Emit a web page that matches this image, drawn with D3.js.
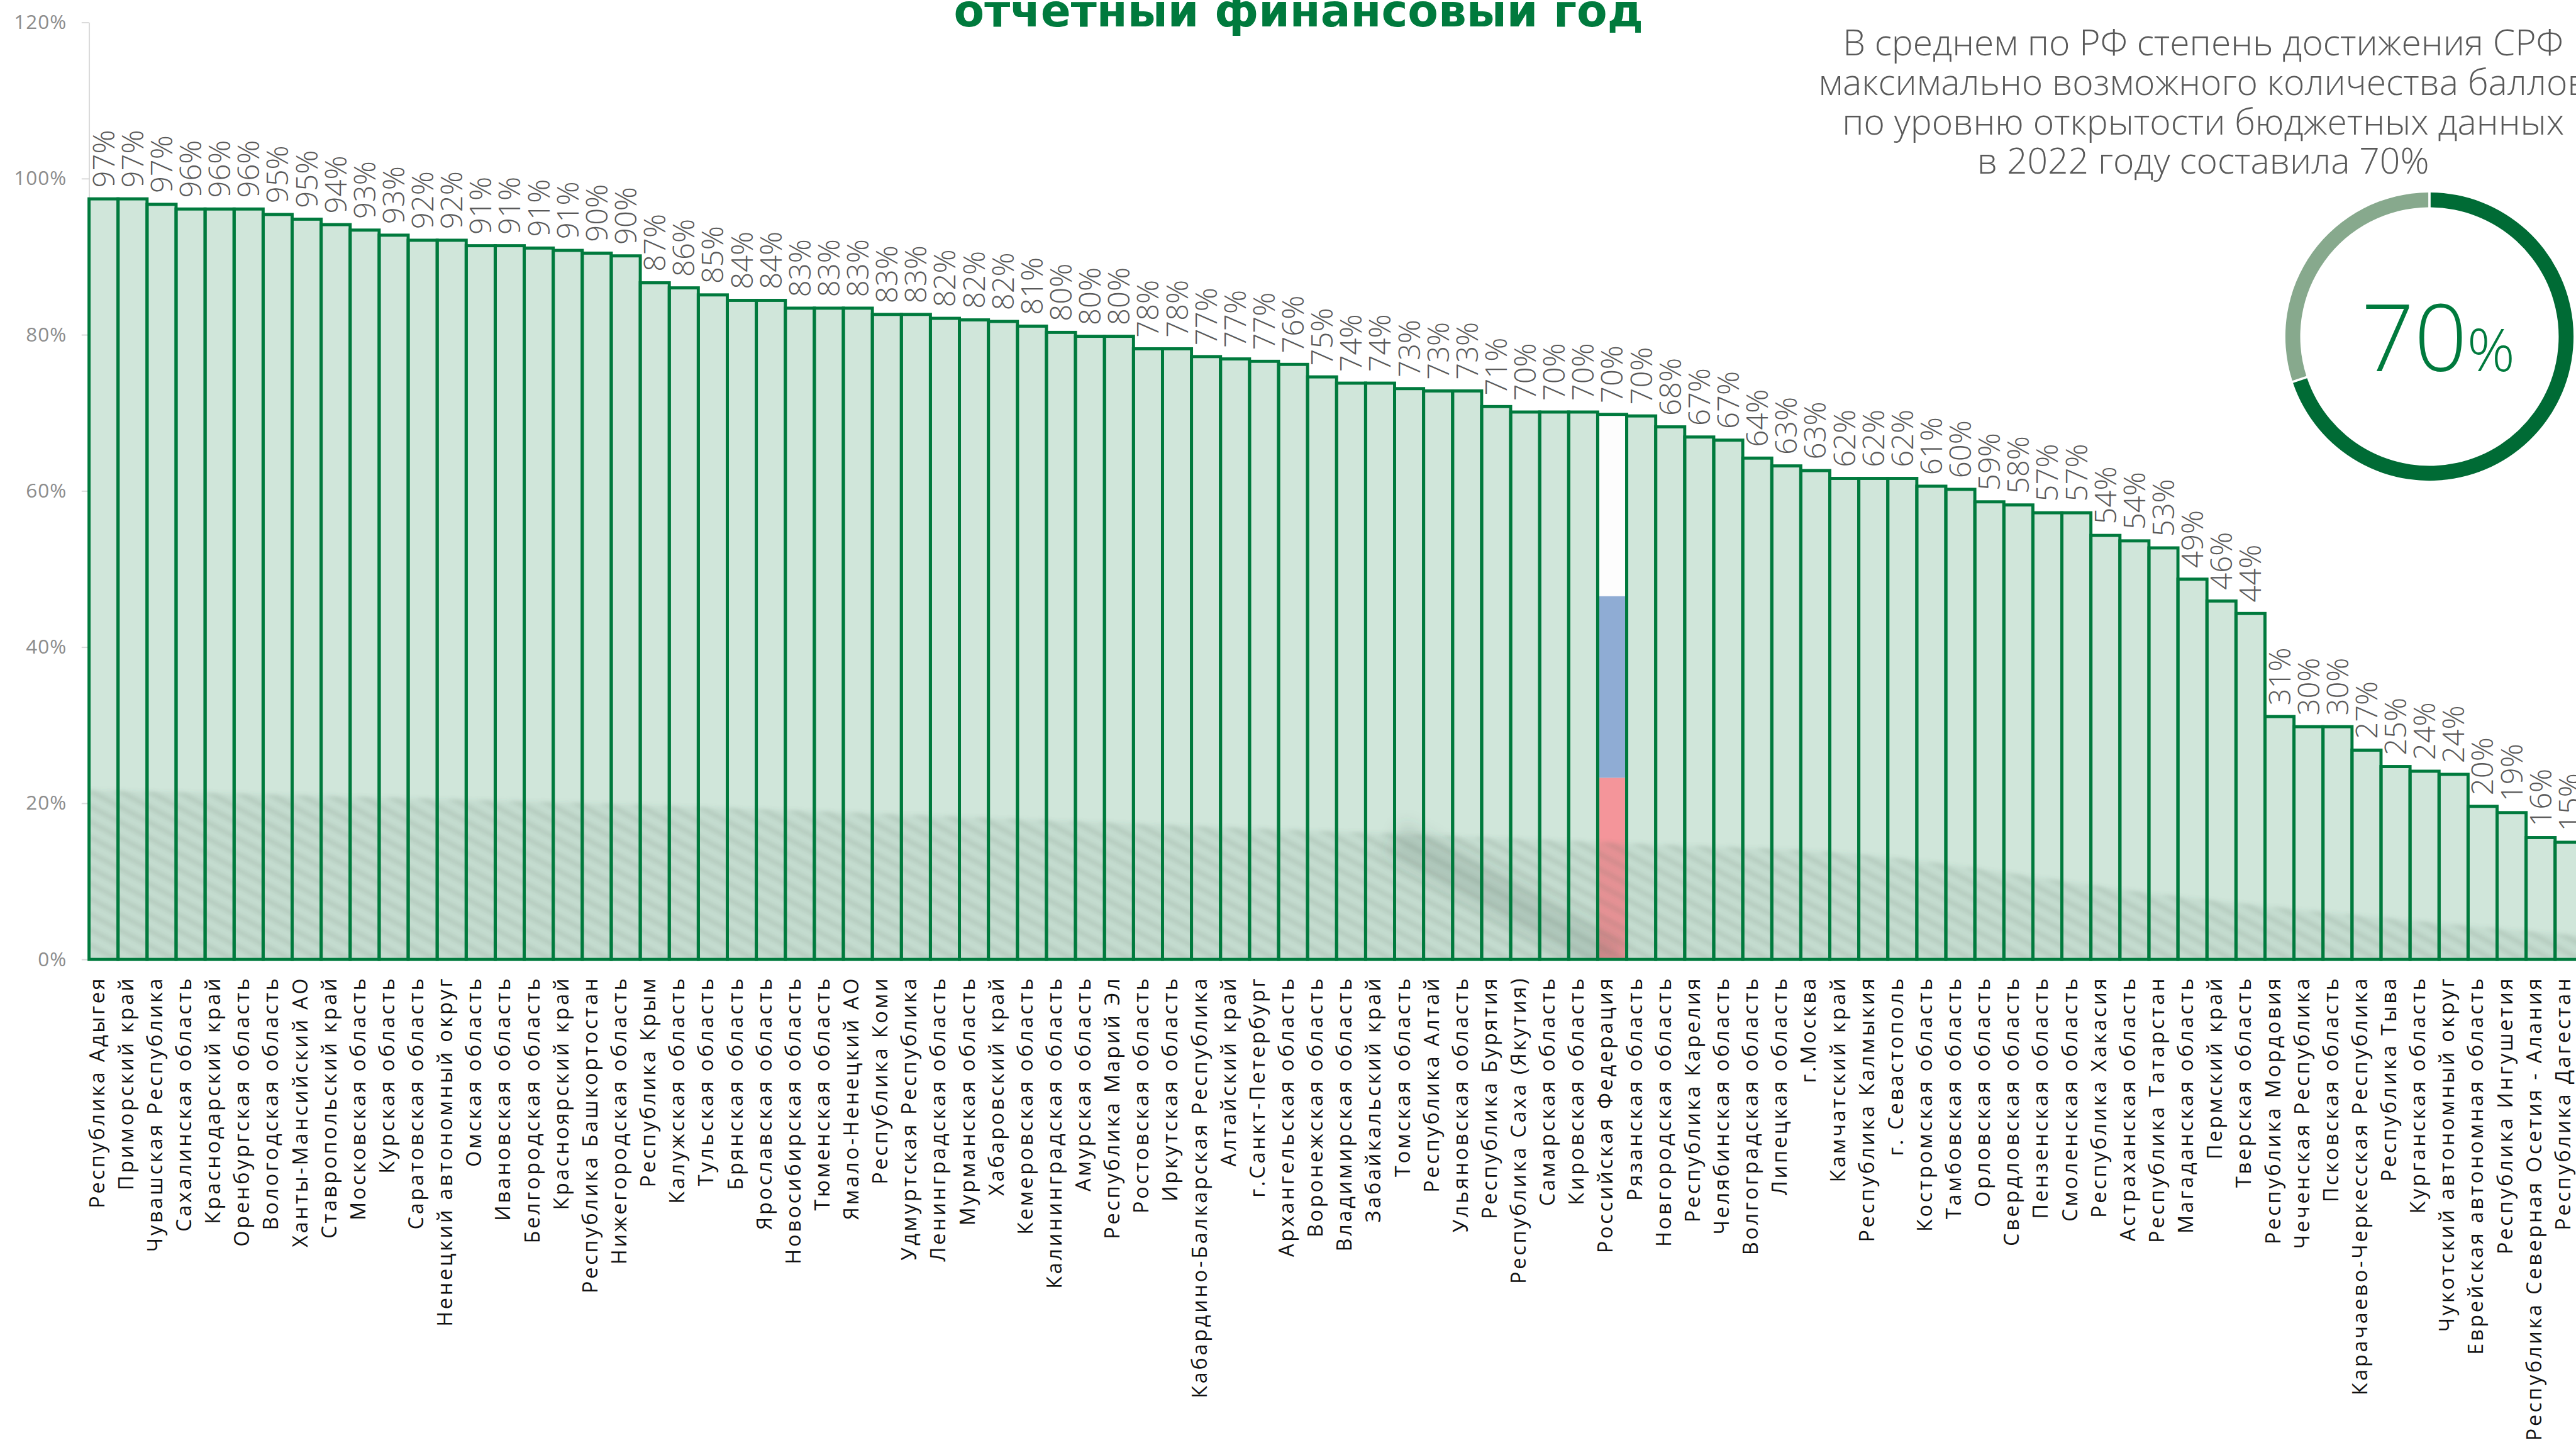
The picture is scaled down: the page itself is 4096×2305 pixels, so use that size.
<!DOCTYPE html>
<html lang="ru">
<head>
<meta charset="utf-8">
<title>Открытость бюджетных данных</title>
<script src="https://cdn.jsdelivr.net/npm/d3@7"></script>
<style>
  html, body { margin: 0; padding: 0; background: #fff; overflow: hidden; }
  svg { display: block; }
</style>
</head>
<body>
<svg id="chart"></svg>
<script>
// ---- data ----
const categories = [
  "Республика Адыгея", "Приморский край", "Чувашская Республика", "Сахалинская область",
  "Краснодарский край", "Оренбургская область", "Вологодская область", "Ханты-Мансийский АО",
  "Ставропольский край", "Московская область", "Курская область", "Саратовская область",
  "Ненецкий автономный округ", "Омская область", "Ивановская область", "Белгородская область",
  "Красноярский край", "Республика Башкортостан", "Нижегородская область", "Республика Крым",
  "Калужская область", "Тульская область", "Брянская область", "Ярославская область",
  "Новосибирская область", "Тюменская область", "Ямало-Ненецкий АО", "Республика Коми",
  "Удмуртская Республика", "Ленинградская область", "Мурманская область", "Хабаровский край",
  "Кемеровская область", "Калининградская область", "Амурская область", "Республика Марий Эл",
  "Ростовская область", "Иркутская область", "Кабардино-Балкарская Республика", "Алтайский край",
  "г.Санкт-Петербург", "Архангельская область", "Воронежская область", "Владимирская область",
  "Забайкальский край", "Томская область", "Республика Алтай", "Ульяновская область",
  "Республика Бурятия", "Республика Саха (Якутия)", "Самарская область", "Кировская область",
  "Российская Федерация", "Рязанская область", "Новгородская область", "Республика Карелия",
  "Челябинская область", "Волгоградская область", "Липецкая область", "г.Москва",
  "Камчатский край", "Республика Калмыкия", "г. Севастополь", "Костромская область",
  "Тамбовская область", "Орловская область", "Свердловская область", "Пензенская область",
  "Смоленская область", "Республика Хакасия", "Астраханская область", "Республика Татарстан",
  "Магаданская область", "Пермский край", "Тверская область", "Республика Мордовия",
  "Чеченская Республика", "Псковская область", "Карачаево-Черкесская Республика", "Республика Тыва",
  "Курганская область", "Чукотский автономный округ", "Еврейская автономная область", "Республика Ингушетия",
  "Республика Северная Осетия - Алания", "Республика Дагестан"
];

// share of the maximum possible score, %
const scores = [
  97.4, 97.4, 96.7, 96.1, 96.1, 96.1, 95.4, 94.8, 94.1, 93.4,
  92.75, 92.1, 92.1, 91.4, 91.4, 91.1, 90.8, 90.45, 90.1, 86.65,
  86.0, 85.1, 84.4, 84.4, 83.4, 83.4, 83.4, 82.6, 82.6, 82.1,
  81.9, 81.7, 81.1, 80.3, 79.8, 79.8, 78.2, 78.2, 77.2, 76.9,
  76.6, 76.2, 74.6, 73.8, 73.8, 73.1, 72.8, 72.8, 70.8, 70.1,
  70.1, 70.1, 69.8, 69.6, 68.2, 66.9, 66.5, 64.2, 63.2, 62.6,
  61.6, 61.6, 61.6, 60.6, 60.2, 58.6, 58.2, 57.2, 57.2, 54.3,
  53.6, 52.7, 48.7, 45.9, 44.3, 31.1, 29.8, 29.8, 26.8, 24.7,
  24.1, 23.7, 19.6, 18.8, 15.6, 15.0
];

const yTicks = [0, 20, 40, 60, 80, 100, 120];
const nationalName = "Российская Федерация";
const averageScore = 70;

const titleText = "отчетный финансовый год";
const noteLines = [
  "В среднем по РФ степень достижения СРФ",
  "максимально возможного количества баллов",
  "по уровню открытости бюджетных данных",
  "в 2022 году составила 70%"
];

// soft shadow falling across the lower part of the bars: [bar position, height in %]
const shadeEdge = [[0, 21.7], [18.2, 19.9], [37.4, 17.2], [52.3, 15.0], [60.9, 13.5], [71.5, 8.3], [86, 3.0]];
const shadeStreak = [[45.0, 15.6], [52.6, 0]];

// ---- layout (drawn in a 4166 x 2344 frame, scaled to the window) ----
const W = 4166, H = 2344;
const plotLeft = 144, step = 46.92;
const plotBottom = 1551, plotTop = 36;

const GREEN = "#007a3d";
const BAR_FILL = "#d0e6da";
const FLAG = ["#f4959a", "#8facd4", "#fdfdfd"]; // red, blue, white (bottom to top)

const svg = d3.select("#chart")
  .attr("width", 4096)
  .attr("height", 2305)
  .attr("viewBox", `0 0 ${W} ${H}`);

const x = d3.scaleBand()
  .domain(categories)
  .range([plotLeft, plotLeft + step * categories.length])
  .padding(0);

const xi = d3.scaleLinear()
  .domain([0, categories.length])
  .range(x.range());

const y = d3.scaleLinear()
  .domain([0, 120])
  .range([plotBottom, plotTop]);

const data = categories.map((name, i) => ({ name, value: scores[i] }));

// ---- defs: hatch + blur for the shadow ----
const defs = svg.append("defs");
const hatch = defs.append("pattern")
  .attr("id", "hatch")
  .attr("patternUnits", "userSpaceOnUse")
  .attr("width", 22).attr("height", 22)
  .attr("patternTransform", "rotate(28)");
hatch.append("rect").attr("width", 22).attr("height", 22).attr("fill", "#4f6a5a").attr("fill-opacity", 0.08);
hatch.append("rect").attr("width", 22).attr("height", 9).attr("fill", "#4f6a5a").attr("fill-opacity", 0.13);

defs.append("filter").attr("id", "soft")
  .attr("x", "-5%").attr("y", "-20%").attr("width", "110%").attr("height", "140%")
  .append("feGaussianBlur").attr("stdDeviation", 3);
defs.append("filter").attr("id", "softer")
  .attr("x", "-50%").attr("y", "-50%").attr("width", "200%").attr("height", "200%")
  .append("feGaussianBlur").attr("stdDeviation", 12);

defs.append("clipPath").attr("id", "plotClip")
  .append("rect")
  .attr("x", plotLeft).attr("y", plotTop)
  .attr("width", W - plotLeft).attr("height", plotBottom - plotTop);

// ---- y axis ----
const yAxis = svg.append("g")
  .attr("transform", `translate(${plotLeft},0)`)
  .call(d3.axisLeft(y)
    .tickValues(yTicks)
    .tickSize(12)
    .tickSizeOuter(0)
    .tickPadding(24)
    .tickFormat(d => d + "%"));
yAxis.select(".domain").attr("stroke", "#d9d9d9").attr("stroke-width", 2);
yAxis.selectAll(".tick line").attr("stroke", "#d9d9d9").attr("stroke-width", 2);
yAxis.selectAll(".tick text")
  .attr("fill", "#8c8c8c")
  .style("font-family", "'Open Sans', sans-serif")
  .style("font-size", "32px")
  .style("letter-spacing", "1px");

// ---- bar fills ----
const bars = svg.append("g");
bars.selectAll("rect.fill")
  .data(data.filter(d => d.name !== nationalName))
  .join("rect")
  .attr("class", "fill")
  .attr("x", d => x(d.name))
  .attr("y", d => y(d.value))
  .attr("width", x.bandwidth())
  .attr("height", d => y(0) - y(d.value))
  .attr("fill", BAR_FILL);

// national average drawn as the flag: three equal bands
const nat = data.find(d => d.name === nationalName);
const flagBands = FLAG.map((c, k) => ({ c, lo: nat.value * k / 3, hi: nat.value * (k + 1) / 3 }));
bars.selectAll("rect.flag")
  .data(flagBands)
  .join("rect")
  .attr("class", "flag")
  .attr("x", x(nat.name))
  .attr("y", d => y(d.hi))
  .attr("width", x.bandwidth())
  .attr("height", d => y(d.lo) - y(d.hi))
  .attr("fill", d => d.c);

// ---- shadow over the lower bars ----
const shade = svg.append("g").attr("clip-path", "url(#plotClip)");
const shadeArea = d3.area()
  .x(d => xi(d[0]))
  .y0(y(0))
  .y1(d => y(d[1]))
  .curve(d3.curveMonotoneX);
shade.append("path")
  .attr("d", shadeArea(shadeEdge))
  .attr("fill", "url(#hatch)")
  .attr("filter", "url(#soft)");
shade.append("path")
  .attr("d", d3.line().x(d => xi(d[0])).y(d => y(d[1]))(shadeStreak))
  .attr("stroke", "#3f5a4a")
  .attr("stroke-opacity", 0.16)
  .attr("stroke-width", 60)
  .attr("fill", "none")
  .attr("filter", "url(#softer)");

// ---- bar outlines ----
svg.append("g").selectAll("rect")
  .data(data)
  .join("rect")
  .attr("x", d => x(d.name))
  .attr("y", d => y(d.value))
  .attr("width", x.bandwidth())
  .attr("height", d => y(0) - y(d.value))
  .attr("fill", "none")
  .attr("stroke", GREEN)
  .attr("stroke-width", 5);

// ---- value labels ----
svg.append("g").selectAll("text")
  .data(data)
  .join("text")
  .attr("transform", d => `translate(${x(d.name) + x.bandwidth() / 2},${y(d.value) - 18}) rotate(-90)`)
  .attr("dy", "0.36em")
  .attr("text-anchor", "start")
  .attr("fill", "#595959")
  .style("font-family", "'Open Sans', sans-serif")
  .style("font-weight", 300)
  .style("font-size", "48px")
  .text(d => Math.round(d.value) + "%");

// ---- category labels ----
svg.append("g").selectAll("text")
  .data(data)
  .join("text")
  .attr("transform", d => `translate(${x(d.name) + x.bandwidth() / 2 + 1},${plotBottom + 27}) rotate(-90)`)
  .attr("text-anchor", "end")
  .attr("fill", "#111")
  .style("font-family", "'Open Sans', sans-serif")
  .style("font-weight", 400)
  .style("font-size", "33px")
  .style("letter-spacing", "3.8px")
  .text(d => d.name);

// ---- title line ----
svg.append("text")
  .attr("x", 2100)
  .attr("y", 43)
  .attr("text-anchor", "middle")
  .attr("fill", GREEN)
  .style("font-family", "'DejaVu Sans', sans-serif")
  .style("font-weight", 700)
  .style("font-size", "72px")
  .text(titleText);

// ---- note ----
svg.append("g").selectAll("text")
  .data(noteLines)
  .join("text")
  .attr("x", 3563)
  .attr("y", (d, i) => 89 + i * 64)
  .attr("text-anchor", "middle")
  .attr("fill", "#595959")
  .style("font-family", "'Open Sans', sans-serif")
  .style("font-weight", 300)
  .style("font-size", "58px")
  .text(d => d);

// ---- average ring ----
const ring = svg.append("g").attr("transform", "translate(3929,544)");
const pie = d3.pie().sort(null).value(d => d.v).padAngle(0.012);
const arc = d3.arc().innerRadius(209).outerRadius(233);
ring.selectAll("path")
  .data(pie([{ v: averageScore, c: "#006b35" }, { v: 100 - averageScore, c: "#87a98d" }]))
  .join("path")
  .attr("d", arc)
  .attr("fill", d => d.data.c);

const ringText = ring.append("text")
  .attr("x", 14)
  .attr("y", 56)
  .attr("text-anchor", "middle")
  .attr("fill", GREEN)
  .style("font-family", "'Open Sans', sans-serif")
  .style("font-weight", 300);
ringText.append("tspan").style("font-size", "150px").text(averageScore);
ringText.append("tspan").style("font-size", "96px").text("%");
</script>
</body>
</html>
